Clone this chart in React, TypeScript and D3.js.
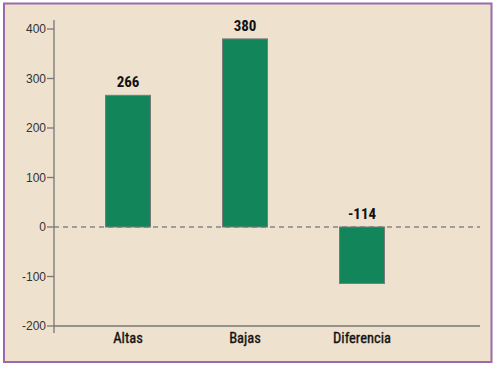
import React from "react";
import * as d3 from "d3";

const categories = ["Altas", "Bajas", "Diferencia"];
const values = [266, 380, -114];
const yTicks = [-200, -100, 0, 100, 200, 300, 400];

const W = 496;
const H = 368;

export default function App() {
  const y = d3.scaleLinear().domain([-200, 400]).range([326, 29]);
  const x = d3.scalePoint<string>().domain(categories).range([128, 362]);
  const bw = 45;
  const axisX = 54;
  const axisRight = 480;
  const cond = "'Liberation Sans Narrow', 'Roboto Condensed', 'Arial Narrow', 'DejaVu Sans Condensed', sans-serif";
  return (
    <svg width={W} height={H} style={{ position: "absolute", left: 0, top: 0 }}>
      <rect x={0} y={0} width={W} height={H} fill="#ffffff" />
      <rect x={4} y={3.5} width={487.5} height={358.5} fill="#EEE1CE" stroke="#9A6AAE" strokeWidth={2} />
      <line x1={axisX} x2={axisRight} y1={y(0)} y2={y(0)} stroke="#888" strokeWidth={1.3} strokeDasharray="5,4" />
      {categories.map((c, i) => {
        const v = values[i];
        const y0 = y(Math.max(0, v));
        const y1 = y(Math.min(0, v));
        return (
          <g key={c}>
            <rect x={(x(c) as number) - bw / 2} y={y0} width={bw} height={y1 - y0} fill="#12865A" stroke="#7a7a7a" strokeWidth={1} />
            <text x={x(c) as number} y={y0 - 8} textAnchor="middle" fontFamily={cond} fontWeight="bold" fontSize={15} fill="#111">
              {v}
            </text>
            <text x={x(c) as number} y={343} textAnchor="middle" fontFamily={cond} fontSize={14.5} fill="#111" stroke="#111" strokeWidth={0.35}>
              {c}
            </text>
          </g>
        );
      })}
      <line x1={axisX} x2={axisX} y1={20} y2={333} stroke="#777" strokeWidth={1.3} />
      <line x1={axisX} x2={axisRight} y1={y(-200)} y2={y(-200)} stroke="#777" strokeWidth={1.3} />
      {yTicks.map((t) => (
        <g key={t}>
          <line x1={axisX - 7} x2={axisX} y1={y(t)} y2={y(t)} stroke="#777" strokeWidth={1.3} />
          <text x={axisX - 8} y={y(t)} dy="0.35em" textAnchor="end" fontFamily="'Liberation Sans', Arial, sans-serif" fontSize={12} fill="#333">
            {t}
          </text>
        </g>
      ))}
    </svg>
  );
}
